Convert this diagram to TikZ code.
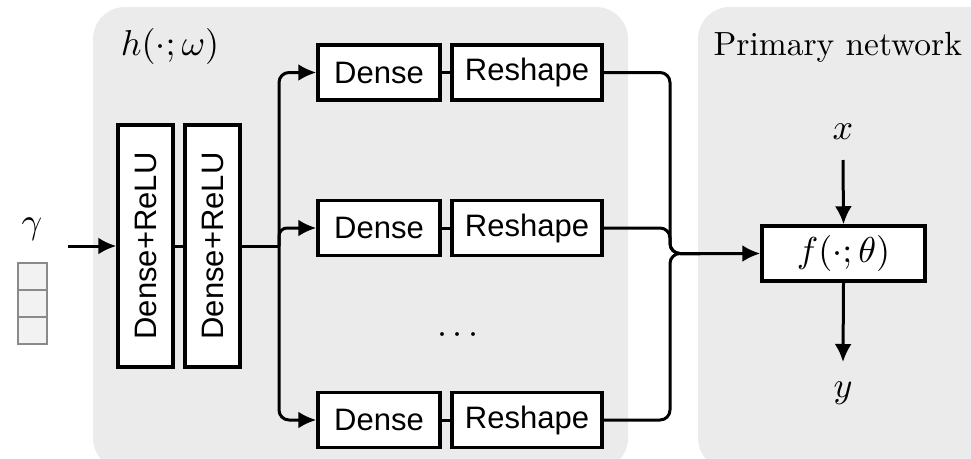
\documentclass[tikz,border=0pt]{standalone}
\usepackage{fontspec}
\newfontfamily\helv{Liberation Sans}
\usetikzlibrary{arrows.meta}
\definecolor{panel}{HTML}{EBEBEB}
\definecolor{cellfill}{HTML}{F2F2F2}
\definecolor{cellline}{HTML}{8A8A8A}
\begin{document}
\begin{tikzpicture}[x=1pt,y=-1pt,
  blk/.style={draw,line width=3.5pt,fill=white,font=\helv\fontsize{31}{36}\selectfont,inner sep=0pt,minimum height=55pt},
  conn/.style={line width=3pt},
  arr/.style={conn,-{Latex[length=18pt,width=17pt]}},
  mlabel/.style={scale=3.6,inner sep=0pt},
  cell/.style={draw=cellline,fill=cellfill,line width=2pt,minimum width=29pt,minimum height=27pt,inner sep=0pt}]
\useasboundingbox (0,0) rectangle (971,458);
\begin{scope}
\clip (0,0) rectangle (971,458);
\fill[panel,rounded corners=32pt] (93,7) rectangle (628,470);
\fill[panel,rounded corners=32pt] (698,7) rectangle (1010,470);
\end{scope}
% labels
\node[mlabel] (hl) at (170,46) {$h(\cdot;\omega)$};
\node[scale=3.35,inner sep=0pt,anchor=base west] (pn) at (713,55) {Primary network};
% input vector
\node[mlabel] (gl) at (32,229) {$\gamma$};
\node[cell] (c1) at (32.5,276.5) {};
\node[cell] (c2) at (32.5,303.5) {};
\node[cell] (c3) at (32.5,330.5) {};
% dense relu
\node[blk,minimum width=55pt,minimum height=242pt] (r1) at (145.5,246) {};
\node[rotate=90,font=\helv\fontsize{31}{36}\selectfont,inner sep=0pt] (r1t) at (r1) {Dense+ReLU};
\node[blk,minimum width=55pt,minimum height=242pt] (r2) at (212.5,246) {};
\node[rotate=90,font=\helv\fontsize{31}{36}\selectfont,inner sep=0pt] (r2t) at (r2) {Dense+ReLU};
% rows
\node[blk,minimum width=122pt] (d1) at (379,72.5) {Dense};
\node[blk,minimum width=150pt] (s1) at (527,72.5) {Reshape};
\node[blk,minimum width=122pt] (d2) at (379,228) {Dense};
\node[blk,minimum width=150pt] (s2) at (527,228) {Reshape};
\node[blk,minimum width=122pt] (d3) at (379,420) {Dense};
\node[blk,minimum width=150pt] (s3) at (527,420) {Reshape};
\node[mlabel] (dots) at (458,335) {$\cdots$};
% primary
\node[draw,line width=3.5pt,fill=white,minimum width=163pt,minimum height=55pt,inner sep=0pt] (f) at (843.5,253.5) {};
\node[mlabel] (ft) at (f) {$f(\cdot;\theta)$};
\node[mlabel] (xl) at (843,132) {$x$};
\node[mlabel] (yl) at (843,393) {$y$};
\coordinate (xs) at (843,160);
\coordinate (ye) at (843,362);
\coordinate (gs) at (68,246);
\coordinate (j1) at (279,246);
\coordinate (j2) at (670,253.5);
% connectors
\draw[arr] (gs) -- (r1.west);
\draw[conn] (r1.east) -- (r2.west);
\draw[conn] (r2.east) -- (j1);
\draw[arr,rounded corners=10pt] (j1) |- (d1.west);
\draw[arr,rounded corners=8pt] (j1) |- (d2.west);
\draw[arr,rounded corners=10pt] (j1) |- (d3.west);
\draw[conn] (d1.east) -- (s1.west);
\draw[conn] (d2.east) -- (s2.west);
\draw[conn] (d3.east) -- (s3.west);
\draw[conn,rounded corners=10pt] (s1.east) -| (j2) -- (700,253.5);
\draw[conn,rounded corners=10pt] (s2.east) -| (j2) -- (700,253.5);
\draw[arr,rounded corners=10pt] (s3.east) -| (j2) -- (f.west);
\draw[arr] (xs) -- (f.north);
\draw[arr] (f.south) -- (ye);
\end{tikzpicture}
\end{document}
